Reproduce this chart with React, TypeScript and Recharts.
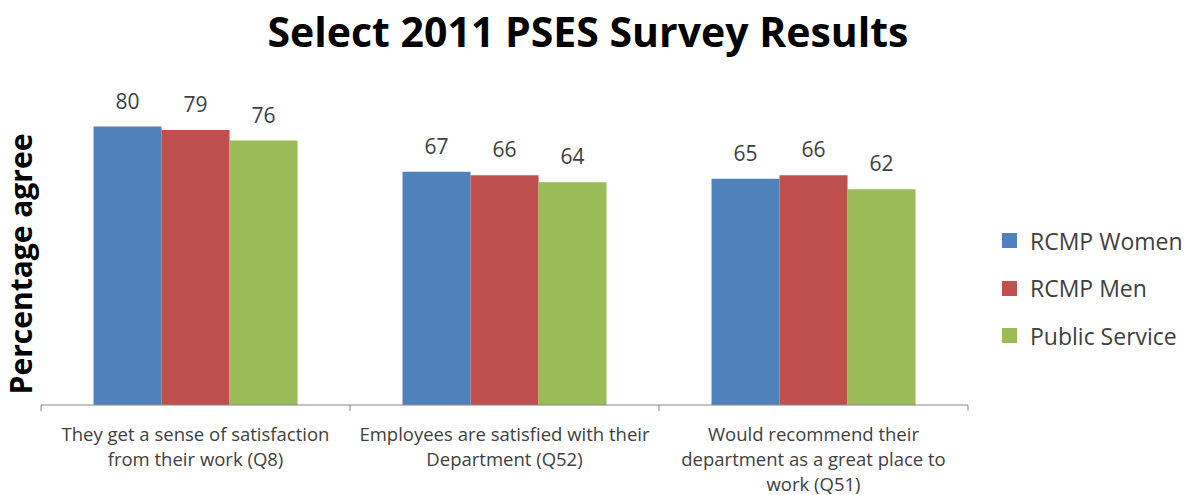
import { BarChart, Bar, XAxis, YAxis, Legend, LabelList } from 'recharts';

// question labels, split into the lines shown under the axis
const categories = [
  ['They get a sense of satisfaction', 'from their work (Q8)'],
  ['Employees are satisfied with their', 'Department (Q52)'],
  ['Would recommend their', 'department as a great place to', 'work (Q51)'],
];

const rcmpWomen = [80, 67, 65];
const rcmpMen = [79, 66, 66];
const publicService = [76, 64, 62];

const series = [
  { key: 'women', name: 'RCMP Women', color: '#4F81BD' },
  { key: 'men', name: 'RCMP Men', color: '#C0504D' },
  { key: 'ps', name: 'Public Service', color: '#9BBB59' },
];

const data = categories.map((lines, i) => ({
  name: lines.join(' '),
  women: rcmpWomen[i],
  men: rcmpMen[i],
  ps: publicService[i],
}));

const AXIS_GREY = '#868686';
const TEXT_GREY = '#404040';

function CategoryTick(props: any) {
  const { x, y, index, visibleTicksCount, payload } = props;
  const half = payload?.offset ?? 0;
  const lines = categories[index] ?? [];
  return (
    <g>
      <line x1={x - half} x2={x - half} y1={y} y2={y + 6} stroke={AXIS_GREY} />
      {index === visibleTicksCount - 1 && (
        <line x1={x + half} x2={x + half} y1={y} y2={y + 6} stroke={AXIS_GREY} />
      )}
      <text x={x} y={y} textAnchor="middle" fill={TEXT_GREY} fontSize={18.5}>
        {lines.map((line, i) => (
          <tspan key={i} x={x} dy={i === 0 ? 36 : 25}>
            {line}
          </tspan>
        ))}
      </text>
    </g>
  );
}

function AxisTitle(props: any) {
  const vb = props.viewBox || { x: 0, y: 0, width: 0, height: 0 };
  const cx = vb.x + 32;
  const cy = vb.y + vb.height / 2 + 33;
  return (
    <text
      x={cx}
      y={cy}
      textAnchor="middle"
      fontSize={30}
      fontWeight={700}
      fill="#000"
      transform={`rotate(-90 ${cx} ${cy})`}
    >
      Percentage agree
    </text>
  );
}

function LegendBox() {
  return (
    <div>
      {series.map((s) => (
        <div key={s.key} style={{ height: 47.5, display: 'flex', alignItems: 'center' }}>
          <span style={{ width: 15, height: 15, background: s.color, marginRight: 13, display: 'inline-block' }} />
          <span style={{ fontSize: 23, color: TEXT_GREY }}>{s.name}</span>
        </div>
      ))}
    </div>
  );
}

export default function App() {
  return (
    <div
      style={{
        position: 'absolute',
        left: 0,
        top: 0,
        width: 1194,
        height: 495,
        background: '#fff',
        fontFamily: '"Open Sans", sans-serif',
      }}
    >
      <div
        style={{
          position: 'absolute',
          left: 0,
          top: 3,
          width: 1176,
          textAlign: 'center',
          fontSize: 41,
          fontWeight: 700,
          color: '#000',
        }}
      >
        Select 2011 PSES Survey Results
      </div>
      <BarChart
        width={1194}
        height={495}
        data={data}
        margin={{ top: 57, right: 226, bottom: 0, left: 0 }}
        barCategoryGap="17%"
        barGap={0}
      >
        <XAxis
          dataKey="name"
          height={90}
          interval={0}
          tickSize={0}
          tickMargin={0}
          tickLine={false}
          axisLine={{ stroke: AXIS_GREY }}
          tick={<CategoryTick />}
        />
        <YAxis
          width={41}
          domain={[0, 100]}
          axisLine={false}
          tickLine={false}
          tick={false}
          label={{ content: <AxisTitle /> }}
        />
        <Legend
          layout="vertical"
          align="center"
          verticalAlign="middle"
          wrapperStyle={{ left: 1002, top: 217, width: 192 }}
          content={<LegendBox />}
        />
        {series.map((s) => (
          <Bar key={s.key} dataKey={s.key} name={s.name} fill={s.color} isAnimationActive={false}>
            <LabelList dataKey={s.key} position="top" offset={18} fill={TEXT_GREY} fontSize={21} />
          </Bar>
        ))}
      </BarChart>
    </div>
  );
}
